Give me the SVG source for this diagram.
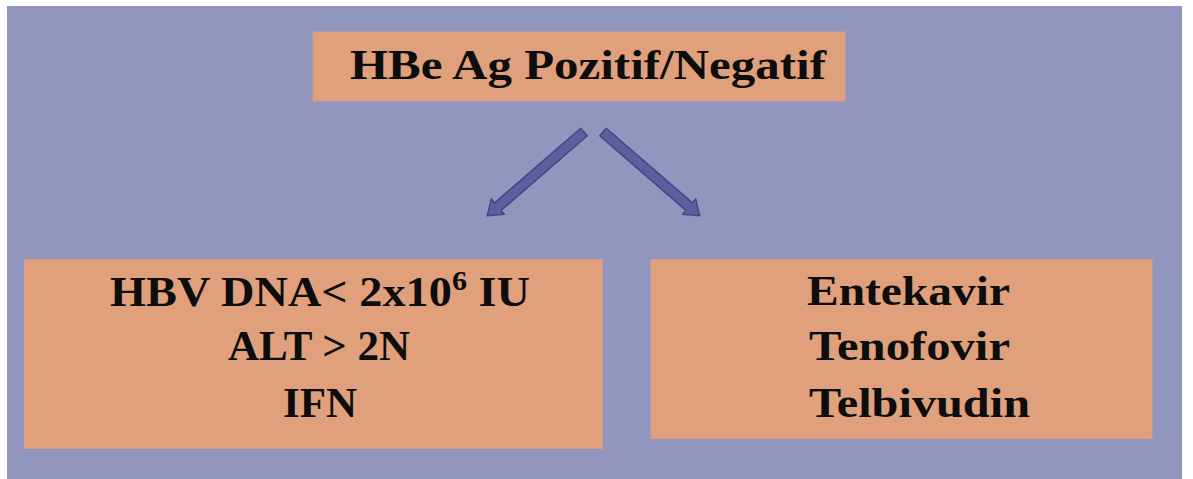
<svg xmlns="http://www.w3.org/2000/svg" width="1193" height="479" viewBox="0 0 1193 479">
  <style>
    .box { fill: #E0A07C; stroke: #D89C86; stroke-width: 1; }
    .label { font-family: "Liberation Serif", "DejaVu Serif", serif; font-weight: bold; fill: #0d0d0d; font-size: 43px; }
    .arrow { fill: #5C5F9F; stroke: #45487F; stroke-width: 1.5; stroke-linejoin: round; }
  </style>
  <defs>
    <!-- block arrow pointing along +x, tail at origin, length 128 -->
    <path id="blockArrow" d="M0,-5 L114,-5 L114,-10 L128,0 L114,10 L114,5 L0,5 Z"/>
  </defs>

  <rect x="0" y="0" width="1193" height="479" fill="#ffffff"/>
  <rect x="7" y="6" width="1175" height="473" fill="#9295BE"/>

  <g id="connectors">
    <use href="#blockArrow" class="arrow" transform="translate(584,132) rotate(139.1)"/>
    <use href="#blockArrow" class="arrow" transform="translate(603,132) rotate(40.9)"/>
  </g>

  <g id="node-hbeag">
    <rect class="box" x="313" y="32" width="532" height="69"/>
    <text class="label" x="350" y="79" font-size="45" textLength="476" lengthAdjust="spacingAndGlyphs">HBe Ag Pozitif/Negatif</text>
  </g>

  <g id="node-ifn">
    <rect class="box" x="24.5" y="259.5" width="578" height="189"/>
    <text class="label" x="110" y="306" textLength="420" lengthAdjust="spacingAndGlyphs">HBV DNA&lt; 2x10<tspan font-size="28" dy="-16">6</tspan><tspan dy="16"> IU</tspan></text>
    <text class="label" x="319" y="360" text-anchor="middle">ALT &gt; 2N</text>
    <text class="label" x="320" y="417" text-anchor="middle">IFN</text>
  </g>

  <g id="node-nucleos">
    <rect class="box" x="651" y="259.5" width="501" height="179"/>
    <text class="label" x="807" y="305" textLength="203" lengthAdjust="spacingAndGlyphs">Entekavir</text>
    <text class="label" x="809" y="360" textLength="201" lengthAdjust="spacingAndGlyphs">Tenofovir</text>
    <text class="label" x="809" y="417" textLength="221" lengthAdjust="spacingAndGlyphs">Telbivudin</text>
  </g>
</svg>
